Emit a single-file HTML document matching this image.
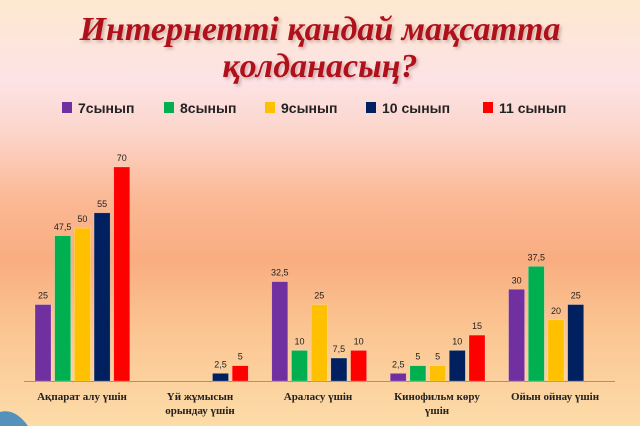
<!DOCTYPE html>
<html><head><meta charset="utf-8"><style>
html,body{margin:0;padding:0}
body{width:640px;height:426px;overflow:hidden;position:relative;font-family:"Liberation Sans",sans-serif;
background:linear-gradient(to bottom,#fde8cf 0px,#fde3e6 80px,#fcd6cc 130px,#fbb894 200px,#f9ad80 260px,#fbc592 330px,#fcdca8 426px);}
.t{position:absolute;left:0;width:640px;text-align:center;font-family:"Liberation Serif",serif;font-style:italic;font-weight:bold;font-size:34px;color:#b0101a;text-shadow:2px 2px 3px rgba(120,60,60,.35);}
</style></head><body>
<div class="t" style="top:11px">Интернетті қандай мақсатта</div>
<div class="t" style="top:48px">қолданасың?</div>
<svg width="640" height="426" style="position:absolute;left:0;top:0">
<path d="M0 412 Q15 408 28 426 L0 426Z" fill="#2a7fc0" opacity=".8"/>
<g font-family="Liberation Sans,sans-serif" font-weight="bold" font-size="14" fill="#222">
<rect x="62" y="102" width="10" height="11" fill="#7030a0"/><text x="78" y="113">7сынып</text>
<rect x="164" y="102" width="10" height="11" fill="#00b050"/><text x="180" y="113">8сынып</text>
<rect x="265" y="102" width="10" height="11" fill="#ffc000"/><text x="281" y="113">9сынып</text>
<rect x="366" y="102" width="10" height="11" fill="#002060"/><text x="382" y="113">10 сынып</text>
<rect x="483" y="102" width="10" height="11" fill="#ff0000"/><text x="499" y="113">11 сынып</text>
</g>
<line x1="24" y1="381.5" x2="615" y2="381.5" stroke="#a89080" stroke-width="1"/>
<g id="bars" font-family="Liberation Sans,sans-serif" font-size="9" fill="#222" text-anchor="middle"></g>
<g font-family="Liberation Serif,serif" font-weight="bold" font-size="11" fill="#222" text-anchor="middle">
<text x="82" y="400">Ақпарат алу үшін</text>
<text x="200" y="400">Үй жұмысын</text><text x="200" y="414">орындау үшін</text>
<text x="318" y="400">Араласу үшін</text>
<text x="437" y="400">Кинофильм көру</text><text x="437" y="414">үшін</text>
<text x="555" y="400">Ойын ойнау үшін</text>
</g>
</svg>
<script>
var d=[[25,47.5,50,55,70],[0,0,0,2.5,5],[32.5,10,25,7.5,10],[2.5,5,5,10,15],[30,37.5,20,25,0]];
var c=["#7030a0","#00b050","#ffc000","#002060","#ff0000"];
var g=document.getElementById("bars"),s="";
for(var i=0;i<5;i++)for(var j=0;j<5;j++){var v=d[i][j];if(!v)continue;var x=35+i*118.4+j*19.7,h=v*3.057,y=381-h;
s+='<rect x="'+x+'" y="'+y+'" width="16" height="'+h+'" fill="'+c[j]+'" stroke="rgba(255,255,255,.4)" stroke-width=".5"/>';
s+='<text x="'+(x+8)+'" y="'+(y-6)+'">'+String(v).replace(".",",")+'</text>';}
g.innerHTML=s;
</script>
</body></html>
